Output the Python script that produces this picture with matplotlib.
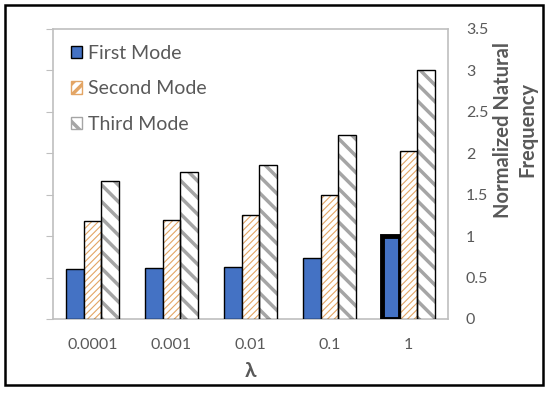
import numpy as np
import matplotlib
matplotlib.use("Agg")
import matplotlib.pyplot as plt
from matplotlib.patches import Rectangle, Patch

# data
categories = ["0.0001", "0.001", "0.01", "0.1", "1"]
first_mode = [0.60, 0.61, 0.63, 0.74, 1.00]
second_mode = [1.18, 1.20, 1.25, 1.50, 2.03]
third_mode = [1.67, 1.77, 1.86, 2.22, 3.00]
series_names = ["First Mode", "Second Mode", "Third Mode"]
y_ticks = [0, 0.5, 1, 1.5, 2, 2.5, 3, 3.5]

plt.rcParams["font.family"] = ["Lato", "DejaVu Sans"]
grey_txt = "#595959"
blue = "#4472C4"
orange = "#E3A565"
grey_hatch = "#A5A5A5"

fig = plt.figure(figsize=(5.5, 3.93), dpi=100)
ax = fig.add_axes([0.0964, 0.1883, 0.718, 0.738])

x = np.arange(len(categories))
w = 0.224

# first mode: solid blue, last bar has the heavy outline
b1 = ax.bar(x - w, first_mode, w, color=blue, edgecolor="black", linewidth=1.0, zorder=3)
b1[-1].set_linewidth(3.5)

def hatched(xpos, vals, hcolor, hatch, hlw):
    plt.rcParams["hatch.linewidth"] = hlw
    bars = ax.bar(xpos, vals, w, facecolor="white", edgecolor=hcolor,
                  hatch=hatch, linewidth=0, zorder=3)
    for b in bars:
        if hasattr(b, "set_hatch_linewidth"):
            b.set_hatch_linewidth(hlw)
    ax.bar(xpos, vals, w, fill=False, edgecolor="black", linewidth=1.0, zorder=4)

hatched(x, second_mode, orange, "/////", 0.8)
hatched(x + w, third_mode, grey_hatch, "\\\\", 2.5)

ax.set_xlim(-0.5, len(categories) - 0.5)
ax.set_ylim(0, 3.5)
ax.set_xticks(x)
ax.set_xticklabels(categories, fontsize=11.5, color=grey_txt)
ax.tick_params(axis="x", length=0, pad=14)

# values shown on the right, bare ticks on the left spine
ax.set_yticks(y_ticks)
ax.set_yticklabels([f"{t:g}" for t in y_ticks], fontsize=11.5, color=grey_txt)
ax.tick_params(axis="y", length=5, color="#BFBFBF", direction="out", pad=8)
for tk in ax.yaxis.get_major_ticks():
    tk.tick1line.set_visible(True)
    tk.tick2line.set_visible(False)
    tk.label1.set_visible(False)
    tk.label2.set_visible(True)

for s in ax.spines.values():
    s.set_color("#BFBFBF")
    s.set_linewidth(1.2)

ax.set_xlabel("λ", fontsize=15, fontweight="bold", color=grey_txt, labelpad=6)
fig.text(0.937, 0.67, "Normalized Natural\nFrequency", rotation=90, ha="center",
         va="center", fontsize=14.5, fontweight="bold", color=grey_txt,
         multialignment="center", linespacing=1.25)

handles = [
    Patch(facecolor=blue, edgecolor="black", linewidth=1.0),
    Patch(facecolor="white", edgecolor=orange, hatch="///"),
    Patch(facecolor="white", edgecolor=grey_hatch, hatch="\\\\"),
]
leg = ax.legend(handles, series_names, loc="upper left", frameon=False,
                fontsize=14, labelspacing=0.95, handlelength=0.6, handleheight=0.6,
                handletextpad=0.3, bbox_to_anchor=(0.015, 0.985), borderaxespad=0.2)
for t in leg.get_texts():
    t.set_color(grey_txt)

# outer frame
fig.patches.append(Rectangle((0.009, 0.02), 0.978, 0.967, transform=fig.transFigure,
                             fill=False, edgecolor="black", linewidth=1.8))

fig.savefig("out.png", dpi=100)
